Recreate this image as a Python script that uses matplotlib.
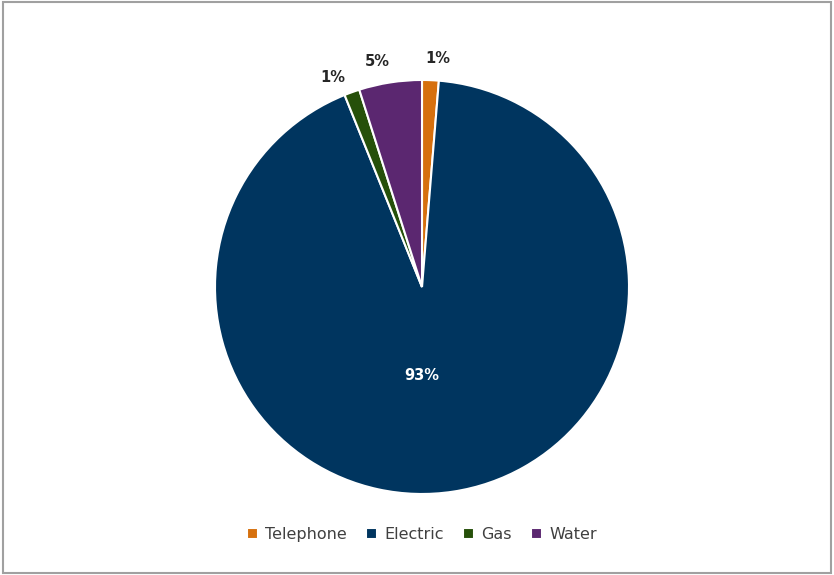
import matplotlib.pyplot as plt
from matplotlib.patches import Rectangle

labels = ['Telephone', 'Electric', 'Gas', 'Water']
values = [1.3, 92.6, 1.2, 4.9]
colors = ['#D6700E', '#00355F', '#26500A', '#5B2770']

plt.rcParams['font.family'] = ['DejaVu Sans']

fig = plt.figure(figsize=(8.34, 5.75), dpi=100)
ax = fig.add_axes([0.2578, 0.1409, 0.4964, 0.72])

wedges, texts, autotexts = ax.pie(
    values, colors=colors, startangle=90, counterclock=False,
    autopct='%1.0f%%', pctdistance=1.1,
    wedgeprops=dict(edgecolor='white', linewidth=1.5),
    textprops=dict(fontsize=10.5, fontweight='bold', color='#262626'))

# nudge outside labels the way the original places them
nudges = [(0.03, 0.005), (0, 0), (-0.06, -0.025), (-0.045, 0)]
for t, (dx, dy) in zip(autotexts, nudges):
    x, y = t.get_position()
    t.set_position((x + dx, y + dy))

# Electric label sits inside the slice
autotexts[1].set_position((0, -0.43))
autotexts[1].set_color('white')

ax.set_xlim(-1, 1)
ax.set_ylim(-1, 1)
ax.set_aspect('equal')

fig.legend(wedges, labels, loc='center', bbox_to_anchor=(0.506, 0.07),
           ncol=4, frameon=False, fontsize=11.5, handlelength=0.7,
           handleheight=0.7, handletextpad=0.45, columnspacing=1.2,
           labelcolor='#404040')

fig.patches.append(Rectangle((0.003, 0.003), 0.994, 0.994, transform=fig.transFigure,
                             fill=False, edgecolor='#A0A0A0', linewidth=1.5))

fig.savefig('out.png', dpi=100)
